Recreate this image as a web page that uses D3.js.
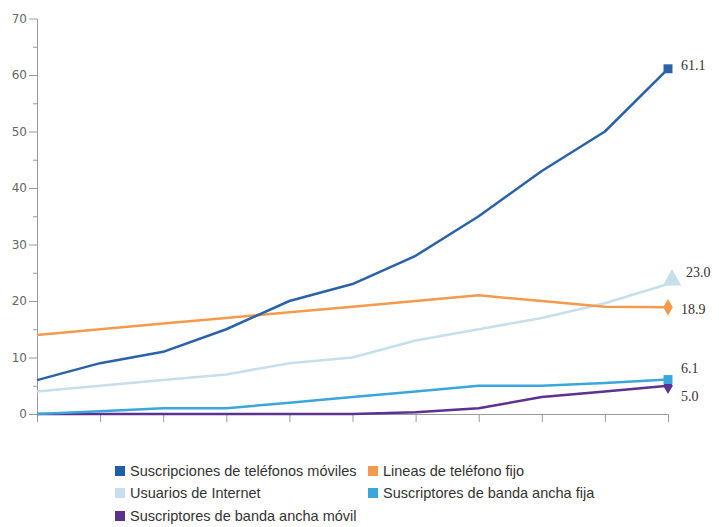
<!DOCTYPE html>
<html>
<head>
<meta charset="utf-8">
<script src="https://cdn.jsdelivr.net/npm/d3@7"></script>
<style>
  html, body { margin: 0; padding: 0; background: #fff; }
  svg { display: block; }
</style>
</head>
<body>
<svg id="chart" width="719" height="527"></svg>
<script>
// Years on the horizontal axis (ticks only, no labels drawn)
const years = [2005, 2006, 2007, 2008, 2009, 2010, 2011, 2012, 2013, 2014, 2015];

// Series values, per 100 inhabitants
const movil      = [6, 9, 11, 15, 20, 23, 28, 35, 43, 50, 61.1];
const fijo       = [14, 15, 16, 17, 18, 19, 20, 21, 20, 19, 18.9];
const internet   = [4, 5, 6, 7, 9, 10, 13, 15, 17, 19.6, 23.0];
const bandaFija  = [0, 0.5, 1, 1, 2, 3, 4, 5, 5, 5.5, 6.1];
const bandaMovil = [0, 0, 0, 0, 0, 0, 0.3, 1, 3, 4, 5.0];

const yTicks = [0, 10, 20, 30, 40, 50, 60, 70];

const series = [
  { name: "Suscriptores de banda ancha móvil", values: bandaMovil, color: "#5b3191", marker: "diamond", dy: 10 },
  { name: "Suscriptores de banda ancha fija",  values: bandaFija,  color: "#3ba6dc", marker: "square",  dy: -11 },
  { name: "Usuarios de Internet",              values: internet,   color: "#c6dfea", marker: "triangle", dy: -12 },
  { name: "Lineas de teléfono fijo",           values: fijo,       color: "#f39a4c", marker: "diamond", dy: 2 },
  { name: "Suscripciones de teléfonos móviles",values: movil,      color: "#2a62a8", marker: "square",  dy: -4 }
];

const legendOrder = [
  { name: "Suscripciones de teléfonos móviles", color: "#1f5fa8" },
  { name: "Lineas de teléfono fijo",            color: "#f39a4c" },
  { name: "Usuarios de Internet",               color: "#c6dfea" },
  { name: "Suscriptores de banda ancha fija",   color: "#3ba6dc" },
  { name: "Suscriptores de banda ancha móvil",  color: "#5b3191" }
];

const svg = d3.select("#chart");

const x = d3.scaleLinear().domain([years[0], years[years.length - 1]]).range([37, 668]);
const y = d3.scaleLinear().domain([0, 70]).range([414, 18.5]);

// Minor y ticks at the fives
const yMinor = d3.range(5, 70, 10);
svg.append("g")
  .attr("transform", "translate(37,0)")
  .call(d3.axisLeft(y).tickValues(yMinor).tickSize(4).tickFormat(""))
  .call(g => g.select(".domain").remove())
  .call(g => g.selectAll("line").attr("stroke", "#9a9a9a"));

// Y axis
svg.append("g")
  .attr("transform", "translate(37,0)")
  .call(d3.axisLeft(y).tickValues(yTicks).tickSize(8).tickSizeOuter(0).tickPadding(2))
  .call(g => g.select(".domain").attr("stroke", "#9a9a9a"))
  .call(g => g.selectAll("line").attr("stroke", "#9a9a9a"))
  .call(g => g.selectAll("text")
    .attr("fill", "#666")
    .style("font-family", "'DejaVu Sans', Verdana, sans-serif")
    .style("font-size", "12px"));

// X axis (ticks only)
svg.append("g")
  .attr("transform", "translate(0,414)")
  .call(d3.axisBottom(x).tickValues(years).tickSize(8).tickSizeOuter(0).tickFormat(""))
  .call(g => g.select(".domain").attr("stroke", "#9a9a9a"))
  .call(g => g.selectAll("line").attr("stroke", "#9a9a9a"));

const line = d3.line()
  .x((d, i) => x(years[i]))
  .y(d => y(d));

const plot = svg.append("g");

series.forEach(s => {
  plot.append("path")
    .datum(s.values)
    .attr("fill", "none")
    .attr("stroke", s.color)
    .attr("stroke-width", 2.5)
    .attr("stroke-linejoin", "round")
    .attr("d", line);
});

// End markers and value labels
const symbolType = { square: d3.symbolSquare, diamond: d3.symbolDiamond, triangle: d3.symbolTriangle };
const symbolSize = { square: 80, diamond: 80, triangle: 150 };

series.forEach(s => {
  const last = s.values[s.values.length - 1];
  const cx = x(years[years.length - 1]);
  const cy = y(last);
  plot.append("path")
    .attr("d", d3.symbol().type(symbolType[s.marker]).size(symbolSize[s.marker])())
    .attr("transform", `translate(${cx + (s.marker === "triangle" ? 4 : 0)},${cy - (s.marker === "triangle" ? 4 : 0)})`)
    .attr("fill", s.color);
  plot.append("text")
    .attr("x", cx + (s.marker === "triangle" ? 18 : 13))
    .attr("y", cy + s.dy)
    .attr("dy", "0.35em")
    .attr("fill", "#333")
    .style("font-family", "'Liberation Serif', 'Times New Roman', serif")
    .style("font-size", "14px")
    .text(last.toFixed(1));
});

// Legend
const legend = svg.append("g");
const colX = [115, 368];
const rowY = [471, 493, 516];
legendOrder.forEach((d, i) => {
  const cx = colX[i % 2];
  const cy = rowY[Math.floor(i / 2)];
  legend.append("rect")
    .attr("x", cx).attr("y", cy - 5)
    .attr("width", 10).attr("height", 10)
    .attr("fill", d.color);
  legend.append("text")
    .attr("x", cx + 15).attr("y", cy)
    .attr("dy", "0.35em")
    .attr("fill", "#333")
    .style("font-family", "'Liberation Sans', Arial, sans-serif")
    .style("font-size", "14.5px")
    .text(d.name);
});
</script>
</body>
</html>
